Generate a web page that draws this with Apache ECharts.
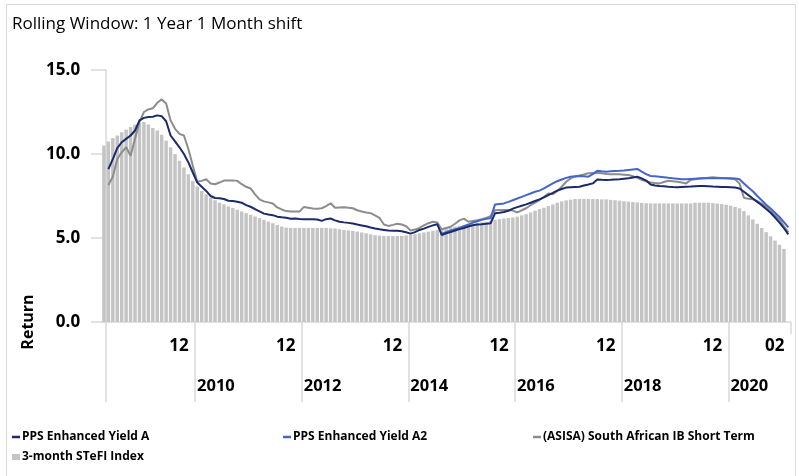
<!DOCTYPE html>
<html>
<head>
<meta charset="utf-8">
<script src="https://cdn.jsdelivr.net/npm/echarts@6/dist/echarts.min.js"></script>
<style>
html,body{margin:0;padding:0;background:#fff;}
#chart{width:799px;height:476px;}
</style>
</head>
<body>
<div id="chart"></div>
<script>
// ---- categories (monthly, Apr 2008 .. Feb 2021) ----
const months = [
"2008-04","2008-05","2008-06","2008-07","2008-08","2008-09","2008-10","2008-11","2008-12",
"2009-01","2009-02","2009-03","2009-04","2009-05","2009-06","2009-07","2009-08","2009-09","2009-10","2009-11","2009-12",
"2010-01","2010-02","2010-03","2010-04","2010-05","2010-06","2010-07","2010-08","2010-09","2010-10","2010-11","2010-12",
"2011-01","2011-02","2011-03","2011-04","2011-05","2011-06","2011-07","2011-08","2011-09","2011-10","2011-11","2011-12",
"2012-01","2012-02","2012-03","2012-04","2012-05","2012-06","2012-07","2012-08","2012-09","2012-10","2012-11","2012-12",
"2013-01","2013-02","2013-03","2013-04","2013-05","2013-06","2013-07","2013-08","2013-09","2013-10","2013-11","2013-12",
"2014-01","2014-02","2014-03","2014-04","2014-05","2014-06","2014-07","2014-08","2014-09","2014-10","2014-11","2014-12",
"2015-01","2015-02","2015-03","2015-04","2015-05","2015-06","2015-07","2015-08","2015-09","2015-10","2015-11","2015-12",
"2016-01","2016-02","2016-03","2016-04","2016-05","2016-06","2016-07","2016-08","2016-09","2016-10","2016-11","2016-12",
"2017-01","2017-02","2017-03","2017-04","2017-05","2017-06","2017-07","2017-08","2017-09","2017-10","2017-11","2017-12",
"2018-01","2018-02","2018-03","2018-04","2018-05","2018-06","2018-07","2018-08","2018-09","2018-10","2018-11","2018-12",
"2019-01","2019-02","2019-03","2019-04","2019-05","2019-06","2019-07","2019-08","2019-09","2019-10","2019-11","2019-12",
"2020-01","2020-02","2020-03","2020-04","2020-05","2020-06","2020-07","2020-08","2020-09","2020-10","2020-11","2020-12",
"2021-01","2021-02"
];

// ---- tick labels ----
const monthTickCats  = ["2009-12","2011-12","2013-12","2015-12","2017-12","2019-12","2021-02"];
const monthTickTexts = ["12","12","12","12","12","12","02"];
const groupStartCats = ["2008-05","2010-01","2012-01","2014-01","2016-01","2018-01","2020-01"];
const yearLabelCats  = ["2010-01","2012-01","2014-01","2016-01","2018-01","2020-01"];
const yearLabelTexts = ["2010","2012","2014","2016","2018","2020"];
const yTicks = [0, 5, 10, 15];

// ---- series values ----
const seriesNames = ["PPS Enhanced Yield A","PPS Enhanced Yield A2","(ASISA) South African IB Short Term","3-month STeFI Index"];

const ppsA = [null,
9.1,9.7,10.35,10.7,10.9,11.1,11.4,12.0,12.15,12.2,12.22,12.3,12.25,11.95,11.1,10.75,10.4,10.0,9.5,8.9,
8.3,8.05,7.8,7.5,7.38,7.36,7.32,7.22,7.2,7.16,7.1,6.96,6.86,6.72,6.58,6.45,6.4,6.36,6.27,6.23,
6.2,6.15,6.16,6.13,6.12,6.12,6.12,6.1,6.02,6.12,6.16,6.05,5.97,5.93,5.9,5.86,5.8,5.75,5.7,5.63,
5.57,5.52,5.48,5.44,5.43,5.43,5.4,5.34,5.26,5.35,5.48,5.56,5.66,5.75,5.82,5.18,5.28,5.36,5.45,5.53,
5.6,5.68,5.76,5.8,5.82,5.85,5.88,6.47,6.5,6.55,6.62,6.75,6.84,6.92,7.0,7.1,7.2,7.3,7.42,7.55,
7.68,7.82,7.92,8.0,8.02,8.04,8.05,8.12,8.18,8.25,8.48,8.46,8.45,8.46,8.48,8.49,8.52,8.55,8.6,8.65,
8.55,8.42,8.18,8.13,8.1,8.08,8.05,8.03,8.02,8.04,8.05,8.06,8.08,8.09,8.1,8.08,8.06,8.05,8.04,8.03,
8.02,8.0,7.95,7.75,7.55,7.35,7.15,6.95,6.72,6.5,6.22,5.92,5.58,5.22];

const ppsA2 = [null,
null,null,null,null,null,null,null,null,null,null,null,null,null,null,null,null,null,null,null,null,
null,null,null,null,null,null,null,null,null,null,null,null,null,null,null,null,null,null,null,null,
null,null,null,null,null,null,null,null,null,null,null,null,null,null,null,null,null,null,null,null,
null,null,null,null,null,null,null,null,null,null,null,null,null,null,null,5.25,5.35,5.45,5.52,5.6,
5.7,5.8,5.92,6.0,6.08,6.15,6.17,7.0,7.03,7.06,7.15,7.25,7.35,7.45,7.55,7.65,7.75,7.82,7.95,8.1,
8.25,8.38,8.48,8.58,8.65,8.68,8.69,8.67,8.65,8.8,9.0,8.97,8.95,8.97,8.99,9.0,9.02,9.05,9.08,9.11,
8.95,8.8,8.69,8.67,8.65,8.62,8.58,8.55,8.53,8.5,8.49,8.51,8.53,8.55,8.55,8.55,8.55,8.55,8.55,8.55,
8.55,8.54,8.5,8.25,8.0,7.78,7.5,7.25,6.98,6.75,6.5,6.25,5.95,5.63];

const asisa = [null,
8.15,8.65,9.7,10.1,10.4,9.9,10.9,11.9,12.5,12.65,12.72,13.05,13.25,13.0,12.0,11.5,11.2,11.1,10.3,9.3,
8.35,8.4,8.5,8.25,8.2,8.3,8.42,8.43,8.43,8.4,8.2,8.05,7.95,7.6,7.3,7.18,7.12,7.05,6.82,6.7,
6.6,6.58,6.57,6.57,6.85,6.8,6.75,6.74,6.77,6.9,7.07,6.8,6.82,6.83,6.8,6.77,6.65,6.58,6.52,6.48,
6.35,6.2,5.8,5.72,5.78,5.85,5.8,5.7,5.45,5.5,5.6,5.75,5.88,5.97,5.92,5.52,5.6,5.67,5.85,6.05,
6.15,5.97,6.02,6.06,6.12,6.2,6.3,6.65,6.67,6.67,6.66,6.63,6.52,6.65,6.77,6.95,7.1,7.26,7.45,7.65,
7.6,7.8,8.05,8.35,8.55,8.65,8.72,8.78,8.85,8.87,8.89,8.85,8.81,8.8,8.79,8.79,8.77,8.75,8.68,8.58,
8.47,8.38,8.3,8.27,8.25,8.33,8.41,8.38,8.35,8.3,8.25,8.45,8.5,8.52,8.55,8.58,8.61,8.59,8.57,8.55,
8.52,8.49,8.25,7.4,7.33,7.3,7.2,7.05,6.85,6.6,6.35,6.1,5.7,5.35];

const stefi = [
10.5,10.75,10.95,11.1,11.3,11.45,11.6,11.75,11.85,11.9,11.75,11.55,11.4,11.15,10.8,10.4,10.0,9.6,9.2,8.8,
8.4,8.05,7.8,7.6,7.4,7.25,7.1,7.0,6.88,6.78,6.68,6.58,6.48,6.38,6.28,6.18,6.08,5.98,5.88,5.78,
5.68,5.62,5.6,5.6,5.6,5.6,5.6,5.6,5.6,5.6,5.6,5.58,5.57,5.52,5.48,5.45,5.42,5.38,5.33,5.28,
5.22,5.17,5.14,5.12,5.12,5.12,5.12,5.12,5.15,5.18,5.22,5.28,5.33,5.38,5.43,5.48,5.53,5.58,5.63,5.68,
5.72,5.78,5.82,5.86,5.9,5.94,5.97,6.02,6.08,6.12,6.16,6.19,6.22,6.27,6.35,6.42,6.52,6.62,6.72,6.8,
6.9,7.0,7.1,7.18,7.24,7.28,7.32,7.32,7.32,7.32,7.32,7.32,7.3,7.3,7.27,7.25,7.22,7.19,7.17,7.14,
7.12,7.09,7.07,7.06,7.06,7.06,7.06,7.06,7.06,7.06,7.06,7.06,7.06,7.1,7.1,7.1,7.1,7.07,7.05,7.02,
6.98,6.92,6.85,6.77,6.6,6.35,6.1,5.85,5.6,5.35,5.1,4.85,4.6,4.35,null];

// ---- chart ----
const boundaries = months.concat(["end"]);
const GRID = {left: 101.7, right: 8.4, top: 70, bottom: 154};
const FONT = "'Open Sans', 'DejaVu Sans', sans-serif";
const AXIS_GRAY = "#d9d9d9";

const chart = echarts.init(document.getElementById('chart'), null, {renderer: 'canvas'});

function legendFor(name, left, top, w, h, color) {
  return {
    data: [{name: name, icon: 'rect', itemStyle: {color: color}}],
    left: left, top: top, itemWidth: w, itemHeight: h, padding: 0,
    selectedMode: false,
    textStyle: {fontFamily: FONT, fontWeight: 'bold', fontSize: 12, color: '#000', padding: [0,0,0,-3]}
  };
}

const option = {
  animation: false,
  backgroundColor: '#fff',
  title: {
    text: 'Rolling Window: 1 Year 1 Month shift',
    left: 12, top: 16, padding: 0,
    textStyle: {fontFamily: FONT, fontWeight: 'normal', fontSize: 17, color: '#000'}
  },
  graphic: [
    {type: 'rect', shape: {x: 6.5, y: 4.5, width: 789, height: 480}, style: {fill: 'none', stroke: AXIS_GRAY, lineWidth: 1}, silent: true, z: -10},
    {type: 'text', x: 28, y: 322, rotation: Math.PI / 2,
     style: {text: 'Return', font: "bold 16px " + FONT, fill: '#000', align: 'center', verticalAlign: 'middle'}}
  ],
  legend: [
    legendFor(seriesNames[0], 12, 431, 8, 2.5, '#1b2a6b'),
    legendFor(seriesNames[1], 283, 431, 8, 2.5, '#4466cc'),
    legendFor(seriesNames[2], 533, 431, 8, 2.5, '#8c8c8c'),
    legendFor(seriesNames[3], 12, 451, 8, 6, '#c4c4c4')
  ],
  grid: GRID,
  xAxis: [
    { // main category axis (bars and lines), month labels
      type: 'category', data: months, boundaryGap: true, position: 'bottom',
      axisLine: {show: true, onZero: false, lineStyle: {color: AXIS_GRAY, width: 1.5}},
      axisTick: {show: false},
      axisLabel: {
        interval: function (i, v) { return monthTickCats.indexOf(v) >= 0; },
        formatter: function (v) { const j = monthTickCats.indexOf(v); return j >= 0 ? monthTickTexts[j] : ''; },
        align: 'right', padding: [0, 4, 0, 0], margin: 16,
        fontFamily: FONT, fontWeight: 'bold', fontSize: 17, color: '#000', hideOverlap: false
      },
      splitLine: {show: false}
    },
    { // group separators and year labels (on category boundaries)
      type: 'category', data: boundaries, boundaryGap: false, position: 'bottom',
      axisLine: {show: false},
      axisTick: {show: true, length: 80, interval: function (i, v) { return groupStartCats.indexOf(v) >= 0; },
                 lineStyle: {color: AXIS_GRAY, width: 1.5}},
      axisLabel: {
        interval: function (i, v) { return yearLabelCats.indexOf(v) >= 0; },
        formatter: function (v) { const j = yearLabelCats.indexOf(v); return j >= 0 ? yearLabelTexts[j] : ''; },
        align: 'left', padding: [0, 0, 0, 2], margin: 56,
        fontFamily: FONT, fontWeight: 'bold', fontSize: 16.5, color: '#000', hideOverlap: false
      },
      splitLine: {show: false}
    },
    { // short closing tick at the right end
      type: 'category', data: boundaries, boundaryGap: false, position: 'bottom',
      axisLine: {show: false},
      axisTick: {show: true, length: 12, interval: function (i, v) { return v === 'end'; },
                 lineStyle: {color: AXIS_GRAY, width: 1.5}},
      axisLabel: {show: false},
      splitLine: {show: false}
    }
  ],
  yAxis: {
    type: 'value', min: yTicks[0], max: yTicks[yTicks.length - 1], interval: 5,
    offset: -4.4,
    axisLine: {show: true, lineStyle: {color: AXIS_GRAY, width: 1.5}},
    axisTick: {show: true, length: 15, lineStyle: {color: AXIS_GRAY, width: 1.5}},
    axisLabel: {formatter: function (v) { return v.toFixed(1); }, margin: 26,
                fontFamily: FONT, fontWeight: 'bold', fontSize: 17, color: '#000'},
    splitLine: {show: false}
  },
  series: [
    {name: seriesNames[3], type: 'bar', xAxisIndex: 0, data: stefi, barCategoryGap: '22%',
     itemStyle: {color: '#c4c4c4'}, clip: false},
    {name: seriesNames[2], type: 'line', xAxisIndex: 0, data: asisa, symbol: 'none',
     lineStyle: {color: '#8c8c8c', width: 2}, itemStyle: {color: '#8c8c8c'}},
    {name: seriesNames[1], type: 'line', xAxisIndex: 0, data: ppsA2, symbol: 'none',
     lineStyle: {color: '#4466cc', width: 2}, itemStyle: {color: '#4466cc'}},
    {name: seriesNames[0], type: 'line', xAxisIndex: 0, data: ppsA, symbol: 'none',
     lineStyle: {color: '#1b2a6b', width: 2}, itemStyle: {color: '#1b2a6b'}}
  ]
};
chart.setOption(option);
</script>
</body>
</html>
